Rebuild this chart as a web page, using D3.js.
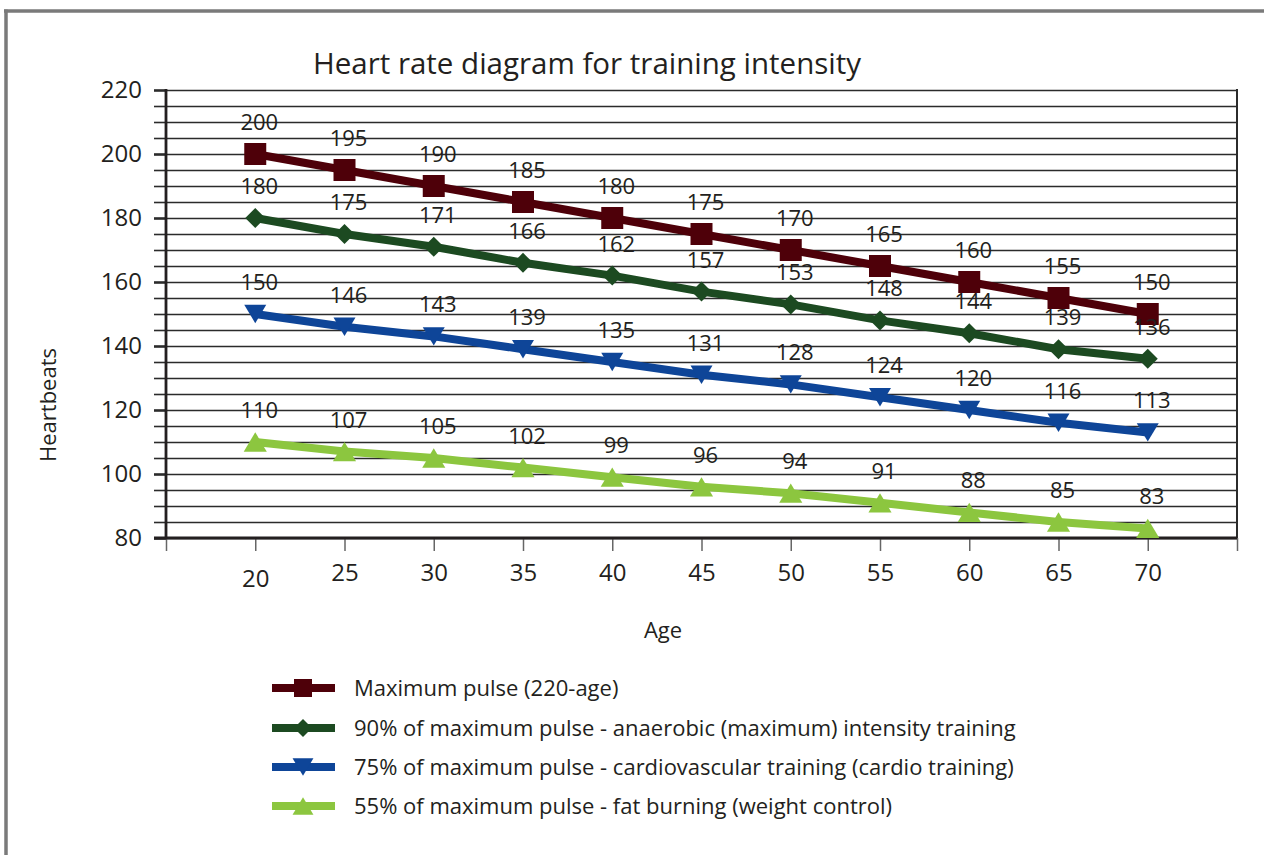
<!DOCTYPE html>
<html>
<head>
<meta charset="utf-8">
<script src="https://cdn.jsdelivr.net/npm/d3@7"></script>
<style>
  html, body { margin: 0; padding: 0; background: #fff; }
  svg { display: block; font-family: "Open Sans", "Noto Sans", sans-serif; }
</style>
</head>
<body>
<svg id="chart" width="1264" height="855"></svg>
<script>
// Ages on the x axis
const ages = [20, 25, 30, 35, 40, 45, 50, 55, 60, 65, 70];

// Heart rate series (beats per minute)
const maxPulse   = [200, 195, 190, 185, 180, 175, 170, 165, 160, 155, 150];
const pulse90    = [180, 175, 171, 166, 162, 157, 153, 148, 144, 139, 136];
const pulse75    = [150, 146, 143, 139, 135, 131, 128, 124, 120, 116, 113];
const pulse55    = [110, 107, 105, 102, 99, 96, 94, 91, 88, 85, 83];

const seriesNames = [
  "Maximum pulse (220-age)",
  "90% of maximum pulse - anaerobic (maximum) intensity training",
  "75% of maximum pulse - cardiovascular training (cardio training)",
  "55% of maximum pulse - fat burning (weight control)"
];

const yTickValues = [80, 100, 120, 140, 160, 180, 200, 220];

const titleText = "Heart rate diagram for training intensity";
const yAxisTitle = "Heartbeats";
const xAxisTitle = "Age";

// Styling per series
const styles = [
  { color: "#4e0009", marker: "square" },
  { color: "#1c4a21", marker: "diamond" },
  { color: "#0e4598", marker: "down" },
  { color: "#8cc63f", marker: "up" }
];

const seriesValues = [maxPulse, pulse90, pulse75, pulse55];
const series = seriesValues.map((vals, i) => ({
  name: seriesNames[i],
  style: styles[i],
  points: vals.map((v, j) => ({ age: ages[j], value: v }))
}));

const svg = d3.select("#chart");

// Page frame (top and left rule)
svg.append("line").attr("x1", 4).attr("x2", 1264).attr("y1", 11).attr("y2", 11)
  .attr("stroke", "#7a7a7a").attr("stroke-width", 3.5);
svg.append("line").attr("x1", 6).attr("x2", 6).attr("y1", 9.5).attr("y2", 855)
  .attr("stroke", "#7a7a7a").attr("stroke-width", 3.5);

// Plot area
const plotL = 166, plotR = 1237, plotT = 90, plotB = 538;
const x = d3.scaleLinear().domain([15, 75]).range([plotL, plotR]);
const y = d3.scaleLinear().domain([80, 220]).range([plotB, plotT]);

// Horizontal grid every 5 beats
const gridAxis = d3.axisLeft(y)
  .tickValues(d3.range(80, 221, 5))
  .tickSizeInner(-(plotR - plotL))
  .tickSizeOuter(0)
  .tickFormat("");
const gridG = svg.append("g").attr("transform", `translate(${plotL},0)`).call(gridAxis);
gridG.select(".domain").remove();
gridG.selectAll(".tick line").attr("stroke", "#2b2b2b").attr("stroke-width", 1.6);
// stubs to the left of the axis
const stubAxis = d3.axisLeft(y)
  .tickValues(d3.range(80, 221, 5))
  .tickSizeInner(12).tickSizeOuter(0).tickFormat("");
const stubG = svg.append("g").attr("transform", `translate(${plotL},0)`).call(stubAxis);
stubG.select(".domain").remove();
stubG.selectAll(".tick line").attr("stroke", "#2b2b2b")
  .attr("stroke-width", d => d % 20 === 0 ? 2.6 : 1.6);

// Y axis labels
const yAxis = d3.axisLeft(y).tickValues(yTickValues).tickSize(0).tickPadding(24);
const yG = svg.append("g").attr("transform", `translate(${plotL},0)`).call(yAxis);
yG.select(".domain").remove();
yG.selectAll("text").attr("font-size", 24).attr("fill", "#231f20")
  .attr("font-family", "'Open Sans', sans-serif");

// Right border of the plot
svg.append("line").attr("x1", plotR).attr("x2", plotR).attr("y1", plotT - 1).attr("y2", plotB)
  .attr("stroke", "#2b2b2b").attr("stroke-width", 2);

// Y axis line
svg.append("line").attr("x1", plotL).attr("x2", plotL).attr("y1", plotT - 1).attr("y2", plotB)
  .attr("stroke", "#231f20").attr("stroke-width", 2.8);

// X axis ticks (below the axis line)
const xAxis = d3.axisBottom(x).tickValues(d3.range(15, 76, 5)).tickSizeInner(13).tickSizeOuter(0)
  .tickFormat(d => ages.includes(d) ? d : "").tickPadding(12);
const xG = svg.append("g").attr("transform", `translate(0,${plotB})`).call(xAxis);
xG.select(".domain").remove();
xG.selectAll(".tick line").attr("stroke", "#666").attr("stroke-width", 1.5);
xG.selectAll("text").attr("font-size", 24).attr("fill", "#231f20")
  .attr("font-family", "'Open Sans', sans-serif")
  .attr("dy", d => d === 20 ? "1.0em" : "0.76em");

// X axis line
svg.append("line").attr("x1", plotL - 12).attr("x2", plotR).attr("y1", plotB).attr("y2", plotB)
  .attr("stroke", "#231f20").attr("stroke-width", 3);

// Marker shapes
function markerPath(type, s) {
  if (type === "square") return `M${-s/2},${-s/2}h${s}v${s}h${-s}Z`;
  if (type === "diamond") return `M0,${-s/2}L${s/2},0L0,${s/2}L${-s/2},0Z`;
  const w = s * 1.1, h = s * 0.92;
  if (type === "down") return `M${-w/2},${-h/2}L${w/2},${-h/2}L0,${h/2}Z`;
  return `M${-w/2},${h/2}L${w/2},${h/2}L0,${-h/2}Z`;
}
const markerSize = { square: 22, diamond: 20, down: 20, up: 21 };

const line = d3.line().x(d => x(d.age)).y(d => y(d.value));

series.forEach(s => {
  const g = svg.append("g");
  g.append("path").datum(s.points).attr("d", line)
    .attr("fill", "none").attr("stroke", s.style.color).attr("stroke-width", 8);
  g.selectAll("path.mk").data(s.points).join("path").attr("class", "mk")
    .attr("transform", d => `translate(${x(d.age)},${y(d.value)})`)
    .attr("d", markerPath(s.style.marker, markerSize[s.style.marker]))
    .attr("fill", s.style.color);
});

// Value labels above each point
series.forEach(s => {
  svg.append("g").selectAll("text").data(s.points).join("text")
    .attr("x", d => x(d.age) + 4)
    .attr("y", d => y(d.value) - 24)
    .attr("text-anchor", "middle")
    .attr("font-size", 22)
    .attr("fill", "#231f20")
    .text(d => d.value);
});

// Title
svg.append("text").attr("x", 587).attr("y", 74).attr("text-anchor", "middle")
  .attr("font-size", 29.5).attr("fill", "#231f20").text(titleText);

// Axis titles
svg.append("text").attr("transform", "translate(56,405) rotate(-90)")
  .attr("text-anchor", "middle").attr("font-size", 22).attr("fill", "#231f20").text(yAxisTitle);
svg.append("text").attr("x", 663).attr("y", 638).attr("text-anchor", "middle")
  .attr("font-size", 22).attr("fill", "#231f20").text(xAxisTitle);

// Legend
const legendRows = [688, 728, 767, 806];
const legendMarker = { square: 18, diamond: 18, down: 19, up: 19 };
series.forEach((s, i) => {
  const g = svg.append("g").attr("transform", `translate(0,${legendRows[i]})`);
  g.append("line").attr("x1", 272).attr("x2", 335).attr("y1", 0).attr("y2", 0)
    .attr("stroke", s.style.color).attr("stroke-width", 8);
  g.append("path").attr("transform", "translate(303,0)")
    .attr("d", markerPath(s.style.marker, legendMarker[s.style.marker]))
    .attr("fill", s.style.color);
  g.append("text").attr("x", 354).attr("y", 8).attr("font-size", 22)
    .attr("fill", "#231f20").text(s.name);
});
</script>
</body>
</html>
